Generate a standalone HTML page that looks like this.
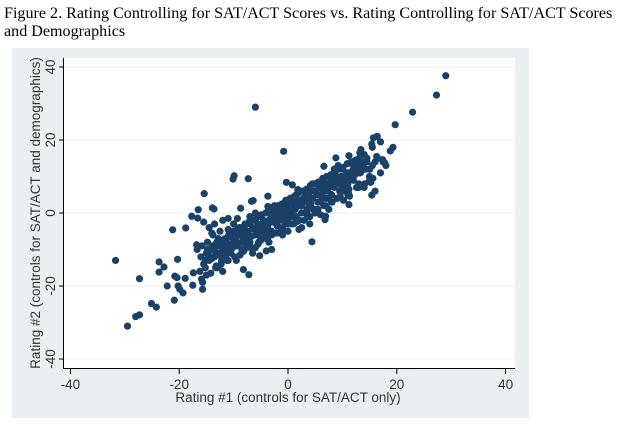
<!DOCTYPE html>
<html><head><meta charset="utf-8"><style>
body{margin:0;background:#fff;width:620px;height:441px;overflow:hidden}
.t{position:absolute;left:4px;font-family:"Liberation Serif",serif;font-size:16.1px;color:#000;line-height:18px}
</style></head><body>
<div class="t" style="top:5px;width:618px;white-space:nowrap">Figure 2. Rating Controlling for SAT/ACT Scores vs. Rating Controlling for SAT/ACT Scores<br>and Demographics</div>
<svg id="chart" width="620" height="441" style="position:absolute;left:0;top:0;font-family:'Liberation Sans',sans-serif">
<rect x="12" y="48" width="517" height="370" fill="#eaf0f2"/>
<rect x="63" y="58" width="452" height="310" fill="#fff"/>
<g id="grid"></g><g id="axes"></g><g id="pts"></g>
<text x="288" y="402" text-anchor="middle" font-size="13.5" fill="#333">Rating #1 (controls for SAT/ACT only)</text>
<text transform="translate(40,213) rotate(-90)" text-anchor="middle" font-size="13.5" fill="#333">Rating #2 (controls for SAT/ACT and demographics)</text>
</svg>
<script>
const xTicks=[-40,-20,0,20,40];
const yTicks=[-40,-20,0,20,40];
const xs=[-31.7,-29.5,-28,-27.3,-27.3,-25.1,-24.2,-23.7,-23.7,-22.8,-22.2,-21.2,-20.9,-20.8,-20.4,-20.3,-20.2,-19.9,-19.3,-18.9,-18.8,-17.5,-17.4,-17.7,-16.5,-16.6,-15.4,-15.7,-15.7,-15.9,-16.8,-16.7,-13.6,-13.9,-9.9,-10.1,-7.3,-8.7,-6.7,-6.4,-6,-9.3,-8.2,-7.2,-5.2,-4,-3,-0.8,-0.3,0.8,1.8,4.4,-3.7,-3.7,19.7,22.9,27.3,29,15.4,15.2,11.2,11.3,15.7,16.4,17,15.5,15.4,19.3,18.8,16.3,17.4,17.8,11.2,13.4,13.2,8.8,6.6,6.8,6.9,
-16,-15.5,-15,-14.5,-14,-13.5,-13,-12.5,-16.2,-15.2,-14.2,-13.2,-12.2,-15.8,-14.8,-13.8,-12.8,-11.8,-15.5,-14.5,-13.5,-12.5,-11.5,-14,-13,-12,-15,-14,-13,-11,-12,-11,-10.5,-10,-9.5,-9,-8.5,-8,-11.5,-10.5,-9.5,-8.5,-7.5,-11,-10,-9,-8,-7,-10.8,-9.8,-8.8,-7.8,-12,-11,-10,-9,
-8,-7.5,-7,-6.5,-6,-5.5,-5,-4.5,-8,-7,-6,-5,-4,-7.5,-6.5,-5.5,-4.5,-7,-6,-5,-4,-6.5,-5.5,-4.5,-6,-5,-3.5,
-4,-3.5,-3,-2.5,-2,-1.5,-1,-0.5,-4,-3,-2,-1,0,-3.5,-2.5,-1.5,-0.5,-3,-2,-1,0,-2.5,-1.5,-0.5,-2,-1,0.2,-1.2,
0,0.5,1,1.5,2,2.5,3,3.5,0,1,2,3,4,0.5,1.5,2.5,3.5,1,2,3,4,1.5,2.5,3.5,0.8,2.2,3.2,4.2,
4,4.5,5,5.5,6,6.5,7,7.5,4,5,6,7,8,4.5,5.5,6.5,7.5,5,6,7,8,5.5,6.5,7.5,4.8,6.2,7.2,
8,8.5,9,9.5,10,10.5,11,11.5,8,9,10,11,12,8.5,9.5,10.5,11.5,9,10,11,12,8.2,9.2,10.2,11.2,
12,12.5,13,13.5,14,14.5,15,12,13,14,15,16,12.5,13.5,14.5,15.5,13,14,15,16,14,15,17,18,17.5,16.5,
-15.2,-14.6,-14.1,-13.4,-12.7,-12.1,-11.3,-10.7,-10.2,-9.6,-9.1,-8.4,-7.8,-7.3,-6.8,-6.2,-5.7,-5.2,-4.7,-4.2,-3.7,-3.2,-2.7,-2.2,-1.7,-1.2,-0.7,-0.2,0.3,0.8,1.3,1.8,2.3,2.8,3.3,3.8,4.3,4.8,5.3,5.8,6.3,6.8,7.3,7.8,8.3,8.8,9.3,9.8,10.3,10.8,11.3,11.8,12.3,12.8,13.3,13.8,14.3,
-14.8,-13.9,-13.1,-12.4,-11.6,-10.9,-10.1,-9.3,-8.6,-7.9,-7.1,-6.4,-5.6,-4.9,-4.1,-3.4,-2.6,-1.9,-1.1,-0.4,0.4,1.1,1.9,2.6,3.4,4.1,4.9,5.6,6.4,7.1,7.9,8.6,9.4,10.1,10.9,11.6,12.4,13.1,
-13.3,-12.3,-11.2,-9.8,-8.2,-6.9,-5.4,-3.8,-2.3,-0.9,0.6,2.1,3.6,5.1,6.6,8.1,9.6,11.1,12.6,14.1,15.6];
const ys=[-13,-31,-28.4,-27.9,-18,-24.8,-25.8,-13.4,-16.2,-14.8,-20,-4.6,-23.9,-17.3,-17.7,-12.7,-20,-20.9,-21.9,-17.9,-4.1,-19.8,-16.4,-0.9,0.9,-1.4,5.3,-20.9,-19,-18.1,-8.7,-10,1.1,1.4,10.2,9.3,9.4,1.3,3.2,3.4,29,-1.5,-15.5,-16.9,-11.7,-10.4,-10,16.9,8.4,7.7,6.4,-7.9,4.6,1.8,24.2,27.6,32.3,37.6,4.9,8.4,2.3,4.6,20.6,21,19.5,18,18.9,18,17,15.5,14.6,13.7,15.7,17.4,16.5,15.1,12.8,-1.8,-0.9,
-12,-14,-11,-13,-10,-12,-9,-11,-16,-15,-16.5,-14.5,-13,-9,-8,-6,-7,-9.5,-2.5,-4,-3,-5,-7.5,-12.5,-15,-16,-17,-5.5,-11,-13,-8,-9,-10,-7,-9,-6,-8,-5,-12,-11,-13,-10,-9,-4.5,-3,-5.5,-3.5,-2,-6.5,-7.5,-11.5,-8.5,-2,-1.5,-6,-4,
-7,-5,-8,-4,-6,-3,-5,-2,-10,-9,-9.5,-7.5,-6,-3,-4,-1,-3.5,-1,0,-7,-5,-11,-8.5,-6.5,-2,-4.5,-8,
-4,-2,-5,-1,-3,0,-2,1,-7,-6,-5.5,-4,-3,1,2,-1,3,-1,-3.5,-6,-1.5,0.5,1,-2.5,-0.5,2,3,-4.5,
-2,0,1,-1,2,0,3,1,-5,-3,-4.5,-2,-3,4,5,2,-0.5,-1,3.5,4,6,-2.5,-4,0.5,3,6,5,2.5,
2,4,1,5,3,6,4,7,-1,0,-0.5,2,5,8,3,9,1,6,3,8,10,1,7.5,4,0.8,4.5,6,
5,7,4,9,6,10,8,11,3,10,12,5,9,12,6,8,10,4,7,11,13,9,13,3.5,6.5,
9,11,8,13,12,14,10,14,7,12,10,6,13,14,15,13,11,16,9,14,7,12,11,13,14,15,
-13,-11.5,-12.5,-10.5,-11.5,-9.5,-10.5,-8.5,-9.5,-7.5,-8.5,-6.5,-7.5,-5.5,-6.5,-4.5,-5.5,-3.5,-4.5,-2.5,-3.5,-1.5,-2.5,-0.5,-1.5,0.5,-0.5,1.5,0.5,2.5,1,3,2,4,3,5,4,6,5,7,5.5,7.5,6.5,8.5,7.5,9.5,8,10,9,11,9.5,11.5,10.5,12.5,11,13,12,
-10,-9,-8,-7.5,-7,-6,-5,-4.5,-4,-3,-2.5,-2,-1,-0.5,0,0.5,1.5,2,2.5,3.5,4,4.5,5.5,6,6.5,7.5,8,8.5,9.5,10,10.5,11.5,12,12.5,13.5,14,14.5,15,
-15,-14,-13,-12,-10.5,-9.5,-8,-7,-5.5,-4.5,-3,-2,-0.5,0.5,2,3,4.5,5.5,7,8,9.5];
const X=v=>288+5.44*v, Y=v=>213-3.65*v;
const NS='http://www.w3.org/2000/svg';
const grid=document.getElementById('grid'),axes=document.getElementById('axes'),pts=document.getElementById('pts');
function mk(tag,attrs,parent){const e=document.createElementNS(NS,tag);for(const k in attrs)e.setAttribute(k,attrs[k]);parent.appendChild(e);return e;}
yTicks.forEach(t=>{
 const g=mk('line',{x1:63,x2:515,y1:Y(t),y2:Y(t),stroke:'#eaf0f2','stroke-width':1},grid);
 
 
 const tk=mk('line',{x1:59,x2:63,y1:Y(t),y2:Y(t),stroke:'#000'},axes);
 
 
 const tx=mk('text',{transform:`translate(55,${Y(t)}) rotate(-90)`,'text-anchor':'middle','font-size':13.5,fill:'#333'},axes);
 tx.textContent=t;
 
 
});
xTicks.forEach(t=>{
 const tk=mk('line',{x1:X(t),x2:X(t),y1:368,y2:374,stroke:'#000'},axes);
 
 
 const tx=mk('text',{x:X(t),y:389,'text-anchor':'middle','font-size':13.5,fill:'#333'},axes);
 tx.textContent=t;
 
 
});
const ya=mk('line',{x1:63.5,x2:63.5,y1:58,y2:368,stroke:'#000'},axes);


const xa=mk('line',{x1:63,x2:515,y1:368.5,y2:368.5,stroke:'#000'},axes);


for(let i=0;i<Math.min(xs.length,ys.length);i++){
 const c=mk('circle',{cx:X(xs[i]),cy:Y(ys[i]),r:3.6,fill:'#1a4268'},pts);
 
 
}
</script>
</body></html>
